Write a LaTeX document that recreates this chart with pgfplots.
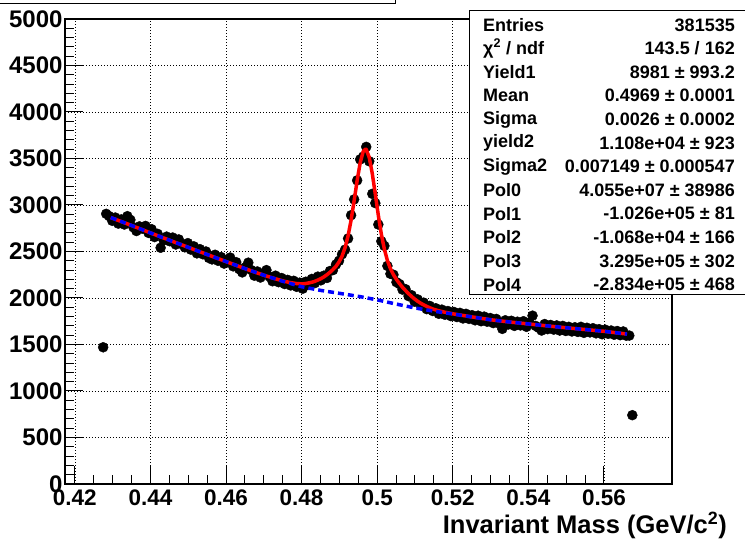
\documentclass[border=0pt]{standalone}
\usepackage{pgfplots}
\pgfplotsset{compat=1.18}
\usepackage{fontspec}
\setmainfont{Liberation Sans}
\begin{document}
\begin{tikzpicture}
\useasboundingbox (0pt,0pt) rectangle (745pt,540pt);
\begin{axis}[
  at={(65pt,56pt)}, anchor=south west, scale only axis, width=607pt, height=465pt,
  xmin=0.4174, xmax=0.578, ymin=0, ymax=5000,
  xtick={0.42,0.44,0.46,0.48,0.5,0.52,0.54,0.56},
  xticklabels={0.42,0.44,0.46,0.48,0.5,0.52,0.54,0.56},
  ytick={0,500,...,5000},
  minor x tick num=3, minor y tick num=4,
  tick align=inside, tick pos=left,
  major tick length=18pt, minor tick length=9pt,
  grid=major, major grid style={black, line width=0.6pt, dash pattern=on 1pt off 2pt},
  axis line style={line width=1.2pt},
  every tick/.style={black, line width=1pt},
  xticklabel style={font=\fontsize{22.5}{26}\selectfont\bfseries, yshift=-2pt},
  yticklabel style={font=\fontsize{24}{28}\selectfont\bfseries, xshift=1pt},
  /pgf/number format/assume math mode=true,
  /pgf/number format/1000 sep={},
  scaled ticks=false,
  clip marker paths=true,
]
\addplot[only marks, mark=*, mark size=5pt, black] table {
0.4275 1470
0.4283 2905
0.4291 2880
0.4299 2830
0.4307 2865
0.4315 2800
0.4323 2845
0.4331 2790
0.4339 2880
0.4347 2840
0.4355 2760
0.4363 2720
0.4371 2770
0.4379 2745
0.4387 2775
0.4395 2700
0.4403 2740
0.4411 2655
0.4419 2690
0.4427 2540
0.4435 2620
0.4443 2660
0.4451 2610
0.4459 2650
0.4467 2575
0.4475 2630
0.4483 2580
0.4491 2545
0.4499 2590
0.4507 2520
0.4515 2555
0.4523 2480
0.4531 2525
0.4539 2470
0.4547 2500
0.4555 2430
0.4563 2415
0.4571 2465
0.4579 2400
0.4587 2440
0.4595 2370
0.4603 2410
0.4611 2435
0.4619 2340
0.4627 2385
0.4635 2310
0.4643 2275
0.4651 2330
0.4659 2380
0.4667 2300
0.4675 2240
0.4683 2285
0.4691 2220
0.4699 2265
0.4707 2300
0.4715 2230
0.4723 2180
0.4731 2240
0.4739 2170
0.4747 2215
0.4755 2150
0.4763 2195
0.4771 2135
0.4779 2185
0.4787 2120
0.4795 2165
0.4803 2100
0.4811 2175
0.4819 2140
0.4827 2205
0.4835 2160
0.4843 2230
0.4851 2190
0.4859 2240
0.4867 2215
0.4875 2290
0.4883 2300
0.4891 2360
0.4899 2400
0.4907 2470
0.4915 2520
0.4923 2640
0.4931 2890
0.4939 3060
0.4947 3265
0.4955 3490
0.4963 3520
0.4971 3625
0.4979 3470
0.4987 3120
0.4995 3020
0.5003 2790
0.5011 2610
0.5019 2560
0.5027 2345
0.5035 2260
0.5043 2250
0.5051 2170
0.5059 2150
0.5067 2090
0.5075 2095
0.5083 2020
0.5091 2030
0.5099 1960
0.5107 1985
0.5115 1925
0.5123 1950
0.5131 1880
0.5139 1915
0.5147 1860
0.5155 1890
0.5163 1830
0.5171 1875
0.5179 1820
0.5187 1860
0.5195 1805
0.5203 1850
0.5211 1795
0.5219 1840
0.5227 1780
0.5235 1830
0.5243 1775
0.5251 1815
0.5259 1760
0.5267 1810
0.5275 1750
0.5283 1800
0.5291 1745
0.5299 1785
0.5307 1730
0.5315 1775
0.5323 1725
0.5331 1668
0.5339 1760
0.5347 1715
0.5355 1755
0.5363 1700
0.5371 1745
0.5379 1705
0.5387 1750
0.5395 1690
0.5403 1735
0.5411 1810
0.5419 1700
0.5427 1680
0.5435 1650
0.5443 1720
0.5451 1665
0.5459 1710
0.5467 1660
0.5475 1705
0.5483 1650
0.5491 1700
0.5499 1645
0.5507 1690
0.5515 1640
0.5523 1685
0.5531 1635
0.5539 1690
0.5547 1625
0.5555 1680
0.5563 1630
0.5571 1675
0.5579 1620
0.5587 1665
0.5595 1610
0.5603 1660
0.5611 1615
0.5619 1650
0.5627 1605
0.5635 1645
0.5643 1600
0.5651 1640
0.5659 1595
0.5667 1596
0.5675 740
};
\addplot[red, line width=3.5pt, line join=round] table {
0.4295 2865
0.435 2780
0.440 2700
0.445 2622
0.450 2545
0.455 2468
0.460 2392
0.465 2316
0.470 2245
0.4723 2216
0.4739 2197
0.4755 2179
0.4771 2165
0.4779 2160
0.4787 2155
0.4795 2153
0.4803 2152
0.4811 2156
0.4819 2162
0.4827 2169
0.4835 2179
0.4843 2193
0.4851 2208
0.4859 2227
0.4867 2250
0.4875 2276
0.4883 2306
0.4891 2341
0.4899 2387
0.4907 2450
0.4915 2541
0.4923 2669
0.4931 2839
0.4939 3046
0.4947 3264
0.4955 3454
0.4963 3576
0.4969 3602
0.4971 3597
0.4979 3511
0.4987 3338
0.4995 3117
0.5003 2889
0.5011 2686
0.5019 2525
0.5027 2403
0.5035 2316
0.5043 2251
0.5051 2199
0.5059 2155
0.5067 2115
0.5075 2080
0.5083 2047
0.5091 2016
0.5099 1989
0.5107 1965
0.5115 1944
0.5123 1926
0.5131 1910
0.5139 1895
0.5147 1882
0.5155 1872
0.5163 1862
0.5171 1855
0.5179 1847
0.5187 1841
0.5195 1834
0.5203 1828
0.525 1797
0.530 1766
0.535 1742
0.540 1721
0.545 1700
0.550 1680
0.555 1661
0.560 1642
0.5661 1612
};
\addplot[blue, line width=3.5pt, dash pattern=on 6pt off 4pt] table {
0.4295 2865
0.435 2780
0.440 2700
0.445 2622
0.450 2545
0.455 2468
0.460 2392
0.465 2316
0.470 2245
0.475 2180
0.480 2121
0.485 2082
0.490 2050
0.495 2018
0.500 1980
0.505 1935
0.510 1893
0.515 1858
0.520 1828
0.525 1796
0.530 1766
0.535 1742
0.540 1721
0.545 1700
0.550 1680
0.555 1661
0.560 1642
0.5661 1612
};
\end{axis}
% title box remnant
\draw[line width=0.8pt] (-5pt,537pt) -- (395pt,537pt) -- (395pt,545pt);
% stats box
\draw[line width=1pt, fill=white] (469pt,245pt) rectangle (760pt,529pt);
\begin{scope}[every node/.style={inner sep=0pt, font=\fontsize{18}{21}\selectfont\bfseries}]
\foreach \i/\lab/\val in {
 0/Entries/381535,
 1/{χ\textsuperscript{2} / ndf}/{143.5 / 162},
 2/Yield1/{8981 ± 993.2},
 3/Mean/{0.4969 ± 0.0001},
 4/Sigma/{0.0026 ± 0.0002},
 5/yield2/{1.108e+04 ± 923},
 6/Sigma2/{0.007149 ± 0.000547},
 7/Pol0/{4.055e+07 ± 38986},
 8/Pol1/{-1.026e+05 ± 81},
 9/Pol2/{-1.068e+04 ± 166},
 10/Pol3/{3.295e+05 ± 302},
 11/Pol4/{-2.834e+05 ± 468}} {
  \pgfmathsetmacro{\yy}{515-23.6*\i}
  \node[anchor=west] at (483pt, \yy pt) {\lab};
  \node[anchor=east] at (735pt, \yy pt) {\val};
}
\end{scope}
\node[anchor=east, inner sep=0pt, font=\fontsize{25.5}{30}\selectfont\bfseries] at (727pt,15pt) {Invariant Mass (GeV/c\textsuperscript{2})};
\end{tikzpicture}
\end{document}
